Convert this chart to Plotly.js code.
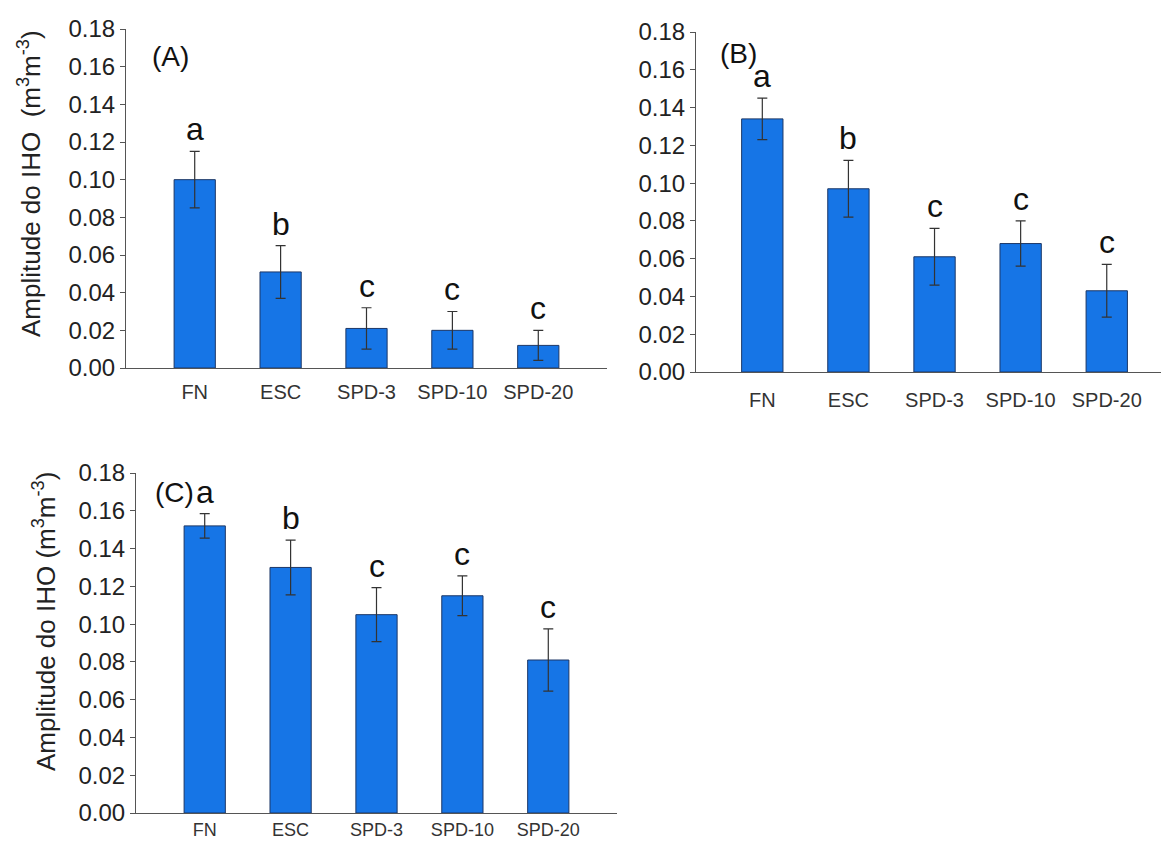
<!DOCTYPE html>
<html>
<head>
<meta charset="utf-8">
<script src="https://cdn.plot.ly/plotly-3.0.1.min.js"></script>
<style>
  html, body { margin: 0; padding: 0; background: #fff; }
  #chart { width: 1161px; height: 841px; }
</style>
</head>
<body>
<div id="chart"></div>
<script>
// ---- data ----
const categories = ['FN', 'ESC', 'SPD-3', 'SPD-10', 'SPD-20'];

const meanA = [0.100, 0.051, 0.021, 0.020, 0.012];
const errA  = [0.015, 0.014, 0.011, 0.010, 0.008];
const lettersA = ['a', 'b', 'c', 'c', 'c'];

const meanB = [0.134, 0.097, 0.061, 0.068, 0.043];
const errB  = [0.011, 0.015, 0.015, 0.012, 0.014];
const lettersB = ['a', 'b', 'c', 'c', 'c'];

const meanC = [0.152, 0.130, 0.105, 0.115, 0.081];
const errC  = [0.0065, 0.0145, 0.0143, 0.0105, 0.0165];
const lettersC = ['a', 'b', 'c', 'c', 'c'];

const panelLabels = ['(A)', '(B)', '(C)'];
const yTickVals = [0, 0.02, 0.04, 0.06, 0.08, 0.10, 0.12, 0.14, 0.16, 0.18];
const yTitle = 'Amplitude do IHO  (m<sup>3</sup>m<sup>-3</sup>)';
const yTitleC = 'Amplitude do IHO (m<sup>3</sup>m<sup>-3</sup>)';

// ---- style ----
const FONT = 'Arial, "Liberation Sans", sans-serif';
const barColor = '#1675e6';
const barEdge = '#1c3766';
const W = 1161, H = 841;

function barTrace(means, errs, xa, ya) {
  return {
    type: 'bar', x: categories, y: means, xaxis: xa, yaxis: ya,
    marker: { color: barColor, line: { color: barEdge, width: 1 } },
    error_y: { type: 'data', array: errs, visible: true, color: '#333', thickness: 1.2, width: 5 },
    showlegend: false, hoverinfo: 'x+y'
  };
}

const data = [
  barTrace(meanA, errA, 'x', 'y'),
  barTrace(meanB, errB, 'x2', 'y2'),
  barTrace(meanC, errC, 'x3', 'y3')
];

function xAxis(domain, anchor, range, standoff, size) {
  return {
    domain: domain, anchor: anchor, type: 'category', range: range,
    showline: true, linecolor: '#555', linewidth: 1, ticks: '', showgrid: false, zeroline: false,
    tickfont: { family: FONT, size: size, color: '#333' }, ticklabelstandoff: standoff, fixedrange: true
  };
}
function yAxis(domain, anchor) {
  return {
    domain: domain, anchor: anchor, range: [0, 0.18],
    tickvals: yTickVals, tickformat: '.2f',
    showline: true, linecolor: '#555', linewidth: 1, ticks: 'outside', ticklen: 5, tickcolor: '#555',
    showgrid: false, zeroline: false,
    tickfont: { family: FONT, size: 24, color: '#222' }, fixedrange: true
  };
}

const annotations = [];
function addLetters(means, errs, letters, xa, ya) {
  letters.forEach(function (l, i) {
    annotations.push({
      xref: xa, yref: ya, x: categories[i], y: means[i] + errs[i],
      text: l, showarrow: false, yanchor: 'bottom', yshift: 2,
      font: { family: FONT, size: 32, color: '#111' }
    });
  });
}
addLetters(meanA, errA, lettersA, 'x', 'y');
addLetters(meanB, errB, lettersB, 'x2', 'y2');
addLetters(meanC, errC, lettersC, 'x3', 'y3');

const panelPos = [[150, 56], [718, 54], [153, 492]];
panelLabels.forEach(function (t, i) {
  annotations.push({
    xref: 'paper', yref: 'paper', x: panelPos[i][0] / W, y: 1 - panelPos[i][1] / H,
    xanchor: 'left', yanchor: 'middle', text: t, showarrow: false,
    font: { family: FONT, size: 28, color: '#111' }
  });
});

annotations.push({
  xref: 'paper', yref: 'paper', x: 30 / W, y: 1 - 184 / H, textangle: -90,
  xanchor: 'center', yanchor: 'middle', text: yTitle, showarrow: false,
  font: { family: FONT, size: 26, color: '#222' }
});
annotations.push({
  xref: 'paper', yref: 'paper', x: 44 / W, y: 1 - 622 / H, textangle: -90,
  xanchor: 'center', yanchor: 'middle', text: yTitleC, showarrow: false,
  font: { family: FONT, size: 26, color: '#222' }
});

const layout = {
  width: W, height: H,
  margin: { l: 0, r: 0, t: 0, b: 0 },
  paper_bgcolor: '#fff', plot_bgcolor: '#fff',
  bargap: 0.52, showlegend: false,
  xaxis:  xAxis([126 / W, 607 / W], 'y',  [-0.8, 4.8], 6, 20),
  yaxis:  yAxis([1 - 368 / H, 1 - 29 / H], 'x'),
  xaxis2: xAxis([696 / W, 1], 'y2', [-0.77, 4.63], 10, 20),
  yaxis2: yAxis([1 - 372 / H, 1 - 32 / H], 'x2'),
  xaxis3: xAxis([136 / W, 617 / W], 'y3', [-0.8, 4.8], 0, 18),
  yaxis3: yAxis([1 - 813 / H, 1 - 473 / H], 'x3'),
  annotations: annotations
};

Plotly.newPlot('chart', data, layout, { displayModeBar: false, staticPlot: true });
</script>
</body>
</html>
